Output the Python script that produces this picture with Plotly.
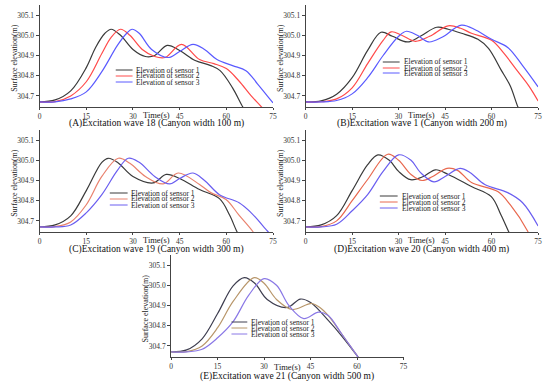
import plotly.graph_objects as go

W, H = 550, 388
FONT = "Liberation Serif"

# ---------------- data ----------------
captions = ["(A)Excitation wave 18 (Canyon width 100 m)",
            "(B)Excitation wave 1 (Canyon width 200 m)",
            "(C)Excitation wave 19 (Canyon width 300 m)",
            "(D)Excitation wave 20 (Canyon width 400 m)",
            "(E)Excitation wave 21 (Canyon width 500 m)"]
series_names = ["Elevation of sensor 1", "Elevation of sensor 2", "Elevation of sensor 3"]
x_ticks = [0, 15, 30, 45, 60, 75]
y_ticks = [304.7, 304.8, 304.9, 305.0, 305.1]
y_ticklabels = ["304.7", "304.8", "304.9", "305.0", "305.1"]
x_title = "Time(s)"
y_title = "Surface elevation(m)"

# Panel A
a1_t = [0, 5, 10, 15, 18, 21, 23, 26, 30, 34, 37, 41, 45, 50, 55, 58, 62, 65.5, 67]
a1_v = [304.67, 304.68, 304.725, 304.84, 304.94, 305.01, 305.03, 305.0, 304.93, 304.895, 304.9, 304.95, 304.925, 304.875, 304.85, 304.825, 304.74, 304.64, 304.61]
a2_t = [0, 5, 10, 15, 20, 23, 26, 29, 33, 37, 40.3, 45.6, 51.4, 56, 60, 64, 68, 71.6, 73]
a2_v = [304.67, 304.672, 304.70, 304.77, 304.91, 304.99, 305.03, 305.0, 304.93, 304.895, 304.89, 304.955, 304.88, 304.86, 304.835, 304.775, 304.70, 304.64, 304.61]
a3_t = [0, 5, 10, 15, 20, 25, 28, 29.7, 32, 36, 41.4, 45, 49.3, 53, 57, 62, 66.3, 70, 75]
a3_v = [304.67, 304.67, 304.685, 304.72, 304.82, 304.95, 305.01, 305.03, 305.01, 304.93, 304.89, 304.92, 304.955, 304.93, 304.88, 304.85, 304.825, 304.76, 304.665]

# Panel B
b1_t = [0, 5, 10, 15, 20, 24.3, 28, 32.8, 37, 42.3, 46, 50.3, 55.6, 59, 63, 66, 68.5, 70]
b1_v = [304.67, 304.675, 304.708, 304.79, 304.925, 305.015, 304.995, 304.967, 304.995, 305.04, 305.03, 305.01, 304.98, 304.935, 304.83, 304.75, 304.645, 304.60]
b2_t = [0, 5, 10, 15, 20, 25, 27.6, 31, 35.4, 40, 46, 50, 53.5, 60, 64, 68, 72, 75]
b2_v = [304.67, 304.671, 304.685, 304.74, 304.86, 304.975, 305.017, 305.0, 304.97, 304.995, 305.047, 305.035, 305.01, 304.975, 304.91, 304.83, 304.75, 304.675]
b3_t = [0, 5, 10, 15, 20, 25, 30, 32.5, 36, 39.7, 44, 50.3, 55, 60, 65.2, 70, 75]
b3_v = [304.67, 304.67, 304.677, 304.71, 304.79, 304.9, 304.995, 305.02, 305.0, 304.967, 304.99, 305.05, 305.025, 304.98, 304.94, 304.85, 304.745]

# Panel C
c1_t = [0, 5, 10, 15, 20, 22.1, 25, 30, 36.5, 40.7, 45, 51.4, 57.8, 61, 63.3, 65]
c1_v = [304.67, 304.68, 304.725, 304.85, 304.99, 305.01, 304.99, 304.92, 304.888, 304.93, 304.91, 304.855, 304.81, 304.73, 304.65, 304.6]
c2_t = [0, 5, 10, 15, 20, 25.3, 29, 34, 39.7, 44.5, 51.4, 55, 59.9, 64, 68.4, 70]
c2_v = [304.67, 304.672, 304.695, 304.78, 304.92, 305.01, 304.985, 304.92, 304.883, 304.937, 304.88, 304.84, 304.806, 304.73, 304.65, 304.61]
c3_t = [0, 5, 10, 15, 20, 25, 28.5, 32, 37, 41.8, 45, 49.3, 53, 57.8, 64.1, 68, 73.2, 75]
c3_v = [304.67, 304.67, 304.68, 304.74, 304.83, 304.95, 305.01, 304.99, 304.92, 304.883, 304.91, 304.937, 304.9, 304.83, 304.79, 304.74, 304.65, 304.62]

# Panel D
d1_t = [0, 5, 10, 15, 20, 23.3, 27, 30, 33.9, 38, 41.9, 46, 53.5, 59.9, 63, 65.4, 67]
d1_v = [304.67, 304.68, 304.726, 304.85, 304.978, 305.027, 305.0, 304.945, 304.904, 304.92, 304.953, 304.93, 304.87, 304.82, 304.73, 304.65, 304.6]
d2_t = [0, 5, 10, 15, 20, 26.5, 30, 34, 37.6, 41, 45.6, 49, 53.5, 62, 66, 71.6, 73]
d2_v = [304.67, 304.672, 304.70, 304.80, 304.905, 305.03, 305.0, 304.93, 304.9, 304.92, 304.96, 304.95, 304.89, 304.845, 304.78, 304.65, 304.6]
d3_t = [0, 5, 10, 15, 20, 25, 30, 34, 37, 41.4, 45, 49.8, 53, 57.8, 65.2, 70, 75]
d3_v = [304.67, 304.67, 304.683, 304.75, 304.83, 304.945, 305.027, 305.0, 304.94, 304.893, 304.92, 304.96, 304.94, 304.88, 304.84, 304.79, 304.675]

# Panel E
e1_t = [0, 5, 10, 15, 20, 23.6, 27, 31, 37.4, 41.7, 45, 50.7, 55, 60.3, 62]
e1_v = [304.67, 304.68, 304.735, 304.86, 304.997, 305.038, 305.01, 304.93, 304.89, 304.932, 304.915, 304.826, 304.75, 304.645, 304.61]
e2_t = [0, 5, 10, 15, 20, 26.8, 30, 34, 39, 45.4, 48, 50.7, 55, 60.3, 62]
e2_v = [304.67, 304.672, 304.70, 304.79, 304.92, 305.038, 305.01, 304.93, 304.88, 304.91, 304.89, 304.85, 304.76, 304.645, 304.61]
e3_t = [0, 5, 10, 15, 20, 25, 30, 34, 38, 42.8, 47.6, 50.7, 55, 60.3, 62]
e3_v = [304.67, 304.67, 304.683, 304.74, 304.82, 304.95, 305.033, 305.0, 304.9, 304.835, 304.867, 304.85, 304.76, 304.645, 304.61]

panel_data = [
    [(a1_t, a1_v), (a2_t, a2_v), (a3_t, a3_v)],
    [(b1_t, b1_v), (b2_t, b2_v), (b3_t, b3_v)],
    [(c1_t, c1_v), (c2_t, c2_v), (c3_t, c3_v)],
    [(d1_t, d1_v), (d2_t, d2_v), (d3_t, d3_v)],
    [(e1_t, e1_v), (e2_t, e2_v), (e3_t, e3_v)],
]

# ---------------- styling / layout ----------------
panel_colors = [
    ["#3a3a3a", "#ff4a4a", "#5a5aff"],
    ["#3a3a3a", "#ff4a4a", "#5a5aff"],
    ["#3a3a3a", "#e9826e", "#6a5ef0"],
    ["#3a3a3a", "#e8684e", "#6a5ef0"],
    ["#3e3e50", "#b8966a", "#8a78e6"],
]
# plot boxes in pixels: (left, right, top, bottom)
boxes = [(38, 274, 5, 107), (307, 542, 5, 107),
         (38, 274, 130, 232), (307, 542, 130, 232),
         (171, 406, 255, 357)]
# legend: (line x0, line x1, text x, row y's) in pixels
legends = [(115, 132, 133, [70, 76, 82]),
           (385, 402, 404, [62, 68, 73]),
           (109, 127, 128, [193, 199, 205]),
           (382, 400, 402, [196, 202, 208]),
           (232, 248, 250, [322, 328, 334])]
# x-title y, caption y (pixels)
label_y = [(115, 124), (115, 124), (240, 249), (240, 249), (367, 376)]


def px(x):
    return x / W


def py(y):
    return 1 - y / H


fig = go.Figure()
layout = dict(
    width=W, height=H, autosize=False,
    margin=dict(l=0, r=0, t=0, b=0),
    paper_bgcolor="white", plot_bgcolor="white",
    showlegend=False,
    font=dict(family=FONT, color="#222", size=8),
)
annotations = []
shapes = []

for i, (series, cols, box, leg, ly, cap) in enumerate(zip(panel_data, panel_colors, boxes, legends, label_y, captions)):
    n = "" if i == 0 else str(i + 1)
    xa, ya = "x" + n, "y" + n
    for (t, v), col, name in zip(series, cols, series_names):
        fig.add_trace(go.Scatter(x=t, y=v, mode="lines", name=name, xaxis=xa, yaxis=ya,
                                 line=dict(color=col, width=1.2, shape="spline", smoothing=1.0)))
    l, r, tp, bt = box
    layout["xaxis" + n] = dict(
        domain=[px(l), px(r)], anchor=ya, range=[0, 75], tickvals=x_ticks,
        showline=True, linecolor="#444", linewidth=1, ticks="outside", ticklen=2,
        tickcolor="#444", showgrid=False, zeroline=False,
        tickfont=dict(family=FONT, size=7.5, color="#333"), ticklabelstandoff=0)
    layout["yaxis" + n] = dict(
        domain=[py(bt), py(tp)], anchor=xa, range=[304.645, 305.15], tickvals=y_ticks,
        ticktext=y_ticklabels, showline=True, linecolor="#444", linewidth=1,
        ticks="outside", ticklen=3, tickcolor="#444", showgrid=False, zeroline=False,
        tickfont=dict(family=FONT, size=7.5, color="#333"))
    cx = (l + r) / 2
    annotations.append(dict(text=x_title, x=px(cx), y=py(ly[0]), xref="paper", yref="paper",
                            showarrow=False, font=dict(family=FONT, size=8.5, color="#222"),
                            xanchor="center", yanchor="middle"))
    annotations.append(dict(text=cap, x=px(cx), y=py(ly[1]), xref="paper", yref="paper",
                            showarrow=False, font=dict(family=FONT, size=9.5, color="#111"),
                            xanchor="center", yanchor="middle"))
    annotations.append(dict(text=y_title, x=px(l - 26), y=py((tp + bt) / 2 + 2), xref="paper", yref="paper",
                            showarrow=False, textangle=-90, font=dict(family=FONT, size=8, color="#222"),
                            xanchor="center", yanchor="middle"))
    x0, x1, tx, rows = leg
    for ry, col, name in zip(rows, cols, series_names):
        shapes.append(dict(type="line", xref="paper", yref="paper", x0=px(x0), x1=px(x1),
                           y0=py(ry), y1=py(ry), line=dict(color=col, width=1)))
        annotations.append(dict(text=name, x=px(tx), y=py(ry), xref="paper", yref="paper",
                                showarrow=False, font=dict(family=FONT, size=7.5, color="#222"),
                                xanchor="left", yanchor="middle"))

layout["annotations"] = annotations
layout["shapes"] = shapes
fig.update_layout(**layout)

fig.write_html("out.html", config={"displayModeBar": False},
               post_script="document.body.style.margin='0';")
